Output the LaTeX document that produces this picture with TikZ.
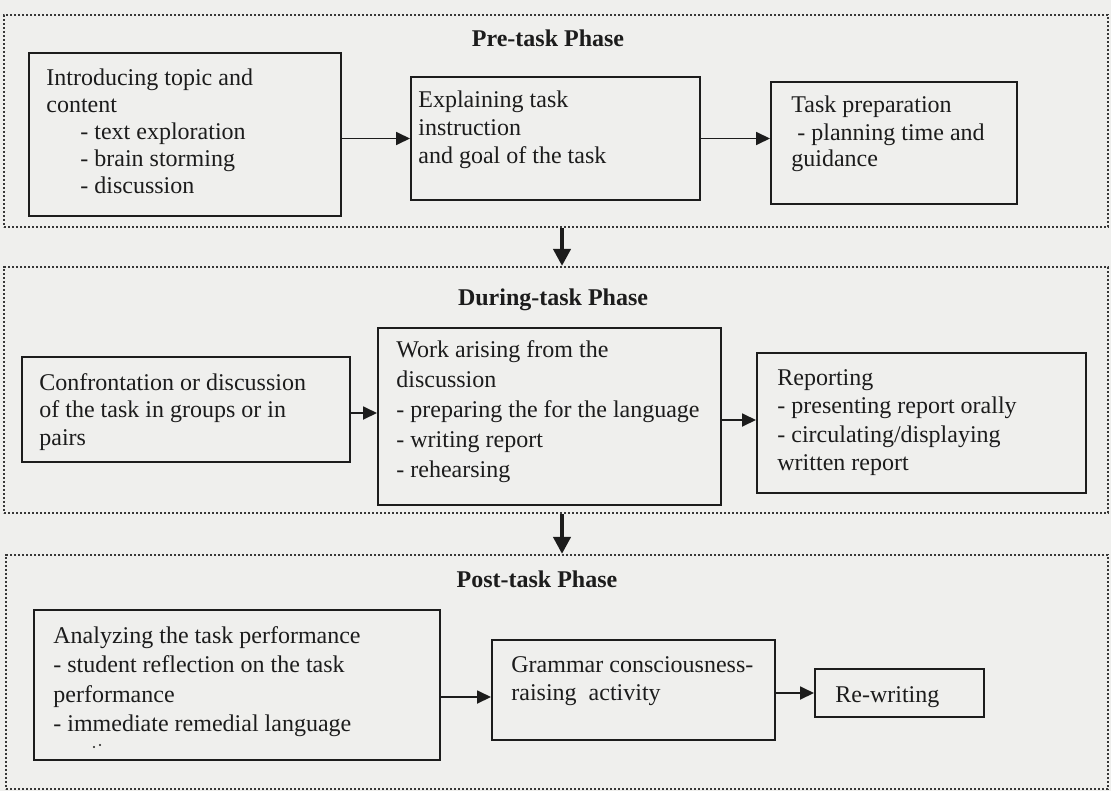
\documentclass[tikz,border=0pt]{standalone}
\usepackage{fontspec}
\setmainfont{Liberation Serif}
\usetikzlibrary{arrows.meta,fit}
\definecolor{paper}{RGB}{239,239,237}
\definecolor{ink}{RGB}{28,28,28}
\definecolor{dotink}{RGB}{55,55,55}
\begin{document}
\begin{tikzpicture}[x=0.5pt,y=-0.5pt,
  phase/.style={draw=dotink, line width=1.1pt, dash pattern=on 1.1pt off 0.9pt, inner sep=0pt},
  stepbox/.style={draw=ink, line width=1pt, inner sep=0pt},
  txt/.style={anchor=base west, inner sep=0pt, text=ink, font=\fontsize{12pt}{#1}\selectfont},
  txt/.default=14pt,
  ttl/.style={anchor=base, inner sep=0pt, text=ink, font=\fontsize{12pt}{14pt}\selectfont\bfseries},
  harrow/.style={draw=ink, line width=0.9pt, -{Triangle[length=7pt,width=6.5pt]}},
  varrow/.style={draw=ink, line width=2pt, -{Triangle[length=8.5pt,width=8.5pt]}},
]
\useasboundingbox (0,0) rectangle (1111,791);
\fill[paper] (0,0) rectangle (1111,791);

% phase frames
\node[phase, fit={(4,15) (1108,227)}] (pre) {};
\node[phase, fit={(4,267) (1108,513)}] (dur) {};
\node[phase, fit={(6,555) (1108,789)}] (post) {};

% titles
\node[ttl] (tpre) at (548,47) {Pre-task Phase};
\node[ttl] (tdur) at (553,305) {During-task Phase};
\node[ttl] (tpost) at (537,587) {Post-task Phase};

% Pre-task boxes
\node[stepbox, fit={(29,53) (341,216)}] (b1) {};
\node[txt={13.5pt}] (t1) at (46,86) {\begin{tabular}[t]{@{}l@{}}Introducing topic and\\content\\\hspace*{17pt}- text exploration\\\hspace*{17pt}- brain storming\\\hspace*{17pt}- discussion\end{tabular}};

\node[stepbox, fit={(411,77) (700,200)}] (b2) {};
\node[txt={14pt}] (t2) at (418,108) {\begin{tabular}[t]{@{}l@{}}Explaining task\\instruction\\and goal of the task\end{tabular}};

\node[stepbox, fit={(771,82) (1017,204)}] (b3) {};
\node[txt={13.5pt}] (t3) at (791,113) {\begin{tabular}[t]{@{}l@{}}Task preparation\\\hspace*{3pt}- planning time and\\guidance\end{tabular}};

% During-task boxes
\node[stepbox, fit={(22,357) (350,462)}] (b4) {};
\node[txt={13.75pt}] (t4) at (39,390) {\begin{tabular}[t]{@{}l@{}}Confrontation or discussion\\of the task in groups or in\\pairs\end{tabular}};

\node[stepbox, fit={(378,328) (721,505)}] (b5) {};
\node[txt={15pt}] (t5) at (396,357) {\begin{tabular}[t]{@{}l@{}}Work arising from the\\discussion\\- preparing the for the language\\- writing report\\- rehearsing\end{tabular}};

\node[stepbox, fit={(757,353) (1086,493)}] (b6) {};
\node[txt={14.25pt}] (t6) at (777,385) {\begin{tabular}[t]{@{}l@{}}Reporting\\- presenting report orally\\- circulating/displaying\\written report\end{tabular}};

% Post-task boxes
\node[stepbox, fit={(34,610) (440,760)}] (b7) {};
\node[txt={14.75pt}] (t7) at (53,643) {\begin{tabular}[t]{@{}l@{}}Analyzing the task performance\\- student reflection on the task\\performance\\- immediate remedial language\end{tabular}};
% stray scan marks below the last line
\fill[ink] (94,747) circle[radius=1.2];
\fill[ink] (100,745) circle[radius=1.2];

\node[stepbox, fit={(492,640) (775,740)}] (b8) {};
\node[txt={14pt}] (t8) at (511,672) {\begin{tabular}[t]{@{}l@{}}Grammar consciousness-\\raising\ \ activity\end{tabular}};

\node[stepbox, fit={(815,669) (984,717)}] (b9) {};
\node[txt] (t9) at (835,702) {Re-writing};

% connectors
\coordinate (vx) at (562,0);
\coordinate (a45) at ([yshift=-1.75pt]b4.east);
\coordinate (a56) at ([yshift=-1.75pt]b5.east);
\coordinate (a78) at ([yshift=-6pt]b7.east);

\draw[harrow] (b1.east |- b2.west) -- (b2.west);
\draw[harrow] (b2.east) -- (b2.east -| b3.west);
\draw[harrow] (a45) -- (a45 -| b5.west);
\draw[harrow] (a56) -- (a56 -| b6.west);
\draw[harrow] (a78) -- (a78 -| b8.west);
\draw[harrow] (b8.east |- b9.west) -- (b9.west);

\draw[varrow] (pre.south -| vx) -- (dur.north -| vx);
\draw[varrow] (dur.south -| vx) -- (post.north -| vx);
\end{tikzpicture}
\end{document}
